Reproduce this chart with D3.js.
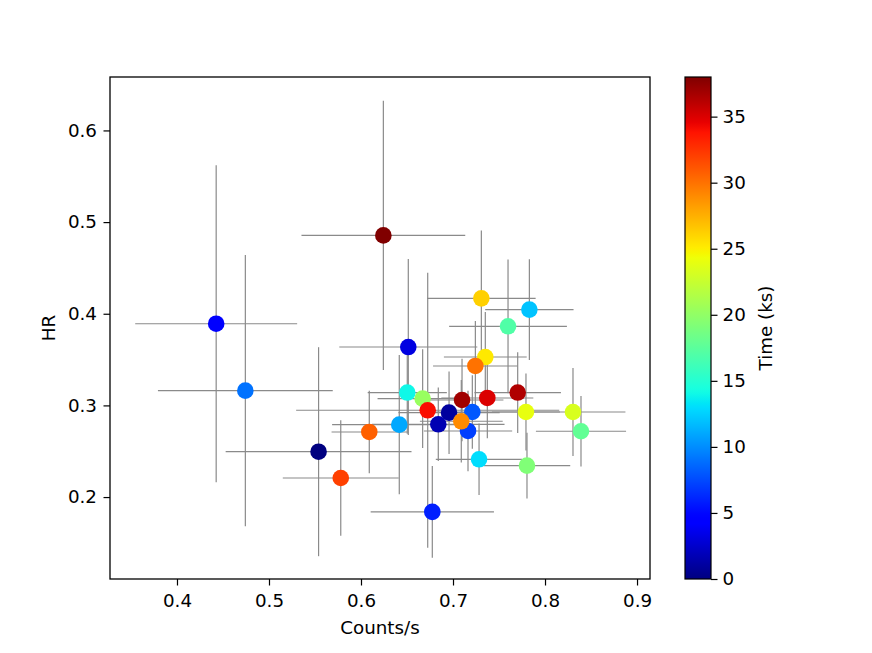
<!DOCTYPE html>
<html>
<head>
<meta charset="utf-8">
<script src="https://cdn.jsdelivr.net/npm/d3@7"></script>
<style>
  body { margin: 0; background: #fff; }
  svg text { font-family: "DejaVu Sans", sans-serif; }
</style>
</head>
<body>
<svg id="chart" width="872" height="653"></svg>
<script>
// time order (ks)
var time      = [0, 1, 1.7, 3.2, 4.6, 5.9, 7.1, 8, 9, 11, 12, 13, 14, 17, 17.8, 19.2, 20.3, 23.3, 24, 25.2, 26.2, 29, 30, 30.7, 32, 34, 35, 36.4, 36.9, 38];
var counts    = [0.5539, 0.6957, 0.684, 0.6514, 0.4426, 0.6775, 0.7163, 0.721, 0.4743, 0.6416, 0.783, 0.7283, 0.6503, 0.7598, 0.8391, 0.7804, 0.667, 0.8304, 0.7793, 0.7351, 0.7308, 0.709, 0.7243, 0.609, 0.578, 0.6725, 0.7373, 0.7703, 0.7098, 0.6243];
var hr        = [0.2495, 0.2921, 0.2794, 0.3637, 0.3891, 0.1838, 0.2721, 0.2928, 0.3161, 0.279, 0.4045, 0.2412, 0.314, 0.3863, 0.2718, 0.2343, 0.3074, 0.2928, 0.2928, 0.3528, 0.4168, 0.2827, 0.343, 0.271, 0.2208, 0.2947, 0.3081, 0.314, 0.3059, 0.4855];
var countsErr = [0.101, 0.055, 0.072, 0.075, 0.088, 0.067, 0.048, 0.05, 0.095, 0.073, 0.048, 0.047, 0.043, 0.064, 0.049, 0.047, 0.049, 0.057, 0.037, 0.045, 0.059, 0.045, 0.046, 0.041, 0.063, 0.143, 0.05, 0.047, 0.045, 0.089];
var hrErr     = [0.114, 0.045, 0.04, 0.096, 0.173, 0.05, 0.044, 0.04, 0.148, 0.076, 0.055, 0.039, 0.045, 0.073, 0.0385, 0.036, 0.054, 0.048, 0.042, 0.049, 0.074, 0.045, 0.049, 0.045, 0.063, 0.15, 0.044, 0.044, 0.045, 0.147];

var xTicks = [0.4, 0.5, 0.6, 0.7, 0.8, 0.9];
var yTicks = [0.2, 0.3, 0.4, 0.5, 0.6];
var cTicks = [0, 5, 10, 15, 20, 25, 30, 35];

var data = time.map((t, i) => ({ t: t, x: counts[i], y: hr[i], xe: countsErr[i], ye: hrErr[i] }));

// matplotlib jet
function jet(v) {
  function seg(pts) {
    for (var i = 1; i < pts.length; i++) {
      if (v <= pts[i][0]) {
        var a = pts[i - 1], b = pts[i];
        return a[1] + (b[1] - a[1]) * (v - a[0]) / (b[0] - a[0]);
      }
    }
    return pts[pts.length - 1][1];
  }
  v = Math.max(0, Math.min(1, v));
  var r = seg([[0, 0], [0.35, 0], [0.66, 1], [0.89, 1], [1, 0.5]]);
  var g = seg([[0, 0], [0.125, 0], [0.375, 1], [0.64, 1], [0.91, 0], [1, 0]]);
  var b = seg([[0, 0.5], [0.11, 1], [0.34, 1], [0.65, 0], [1, 0]]);
  return d3.rgb(r * 255, g * 255, b * 255).formatHex();
}

var svg = d3.select("#chart");
var fs = 18.3;

var x = d3.scaleLinear().domain([0.3272, 0.9141]).range([110, 650]);
var y = d3.scaleLinear().domain([0.1106, 0.6583]).range([579, 77]);
var c = d3.scaleLinear().domain([0, 38]).range([0, 1]);

// error bars
var eb = svg.append("g").attr("stroke", "#8a8a8a").attr("stroke-width", 1.2);
eb.selectAll("line.xe").data(data).enter().append("line")
  .attr("x1", d => x(d.x - d.xe)).attr("x2", d => x(d.x + d.xe))
  .attr("y1", d => y(d.y)).attr("y2", d => y(d.y));
eb.selectAll("line.ye").data(data).enter().append("line")
  .attr("x1", d => x(d.x)).attr("x2", d => x(d.x))
  .attr("y1", d => y(d.y - d.ye)).attr("y2", d => y(d.y + d.ye));

// points
svg.append("g").selectAll("circle").data(data).enter().append("circle")
  .attr("cx", d => x(d.x)).attr("cy", d => y(d.y))
  .attr("r", 8.3)
  .attr("fill", d => jet(c(d.t)));

// axes
var xAxis = svg.append("g").attr("transform", "translate(0,579)")
  .call(d3.axisBottom(x).tickValues(xTicks).tickFormat(d3.format(".1f")).tickSize(6.5).tickPadding(9));
var yAxis = svg.append("g").attr("transform", "translate(110,0)")
  .call(d3.axisLeft(y).tickValues(yTicks).tickFormat(d3.format(".1f")).tickSize(6.5).tickPadding(6.5));
[xAxis, yAxis].forEach(a => {
  a.select(".domain").remove();
  a.selectAll(".tick line").attr("stroke", "#000").attr("stroke-width", 1.2);
  a.selectAll("text").attr("font-size", fs).attr("fill", "#000").attr("font-family", "DejaVu Sans");
});

svg.append("rect").attr("x", 110).attr("y", 77).attr("width", 540).attr("height", 502)
  .attr("fill", "none").attr("stroke", "#000").attr("stroke-width", 1.3);

svg.append("text").attr("x", 380).attr("y", 634).attr("text-anchor", "middle")
  .attr("font-size", fs).text("Counts/s");
svg.append("text").attr("transform", "translate(55,328) rotate(-90)").attr("text-anchor", "middle")
  .attr("font-size", fs).text("HR");

// colorbar
var cb = { x: 685, w: 26, top: 77, bottom: 579 };
var grad = svg.append("defs").append("linearGradient").attr("id", "jetgrad")
  .attr("x1", 0).attr("y1", 1).attr("x2", 0).attr("y2", 0);
grad.selectAll("stop").data(d3.range(0, 1.0001, 0.01)).enter().append("stop")
  .attr("offset", d => d).attr("stop-color", d => jet(d));
svg.append("rect").attr("x", cb.x).attr("y", cb.top).attr("width", cb.w).attr("height", cb.bottom - cb.top)
  .attr("fill", "url(#jetgrad)").attr("stroke", "#000").attr("stroke-width", 1.2);

var cy = d3.scaleLinear().domain([0, 38]).range([cb.bottom, cb.top]);
var cAxis = svg.append("g").attr("transform", "translate(" + (cb.x + cb.w) + ",0)")
  .call(d3.axisRight(cy).tickValues(cTicks).tickSize(6.5).tickPadding(5));
cAxis.select(".domain").remove();
cAxis.selectAll(".tick line").attr("stroke", "#000").attr("stroke-width", 1.2);
cAxis.selectAll("text").attr("font-size", fs).attr("fill", "#000").attr("font-family", "DejaVu Sans");

svg.append("text").attr("transform", "translate(772,328) rotate(-90)").attr("text-anchor", "middle")
  .attr("font-size", fs).text("Time (ks)");
</script>
</body>
</html>
